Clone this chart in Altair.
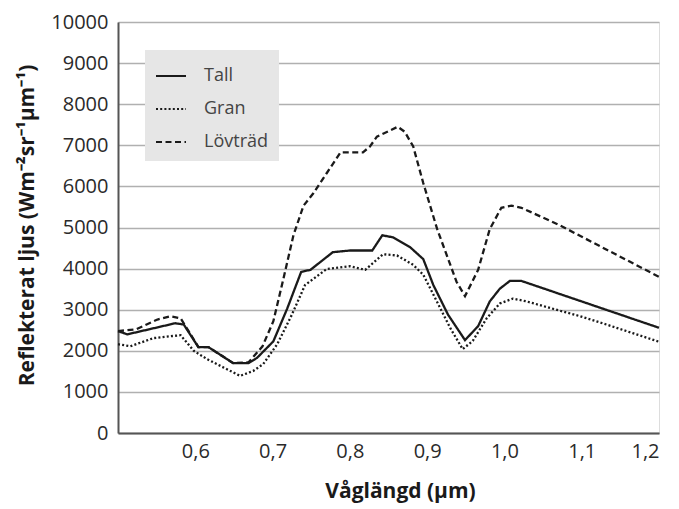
import altair as alt
import pandas as pd

series_names = ["Tall", "Gran", "Lövträd"]

tall_x = [0.500, 0.512, 0.574, 0.585, 0.604, 0.617, 0.649, 0.669, 0.680, 0.701, 0.719, 0.737, 0.749,
          0.778, 0.800, 0.829, 0.842, 0.856, 0.878, 0.895, 0.908, 0.927, 0.949, 0.966, 0.981, 0.994,
          1.007, 1.022, 1.200]
tall_y = [2480, 2400, 2670, 2640, 2090, 2090, 1700, 1700, 1830, 2230, 3030, 3920, 3970,
          4400, 4440, 4440, 4810, 4760, 4520, 4230, 3600, 2880, 2260, 2600, 3200, 3510,
          3700, 3700, 2560]

gran_x = [0.500, 0.516, 0.546, 0.581, 0.598, 0.615, 0.637, 0.658, 0.675, 0.688, 0.706, 0.725, 0.742,
          0.770, 0.800, 0.820, 0.843, 0.861, 0.882, 0.895, 0.908, 0.930, 0.946, 0.959, 0.977, 0.994,
          1.011, 1.029, 1.098, 1.132, 1.166, 1.200]
gran_y = [2160, 2110, 2310, 2380, 2000, 1800, 1590, 1390, 1510, 1680, 2160, 2880, 3600,
          3990, 4060, 3970, 4350, 4320, 4090, 3850, 3370, 2550, 2040, 2240, 2790, 3150,
          3270, 3200, 2840, 2640, 2430, 2220]

lov_x = [0.500, 0.523, 0.551, 0.568, 0.581, 0.594, 0.604, 0.617, 0.649, 0.669, 0.687, 0.701, 0.714,
         0.727, 0.740, 0.753, 0.770, 0.788, 0.817, 0.826, 0.835, 0.862, 0.871, 0.882, 0.895, 0.913,
         0.938, 0.949, 0.966, 0.981, 0.996, 1.009, 1.022, 1.072, 1.200]
lov_y = [2480, 2520, 2760, 2840, 2790, 2400, 2090, 2090, 1700, 1720, 2110, 2720, 3750,
         4810, 5530, 5840, 6320, 6830, 6830, 6970, 7210, 7450, 7330, 6970, 6080, 4960,
         3680, 3330, 3970, 4960, 5480, 5530, 5480, 5050, 3800]

x_ticks = [0.6, 0.7, 0.8, 0.9, 1.0, 1.1, 1.2]
y_ticks = [0, 1000, 2000, 3000, 4000, 5000, 6000, 7000, 8000, 9000, 10000]

rows = []
for name, xs, ys in zip(series_names, [tall_x, gran_x, lov_x], [tall_y, gran_y, lov_y]):
    for i, (a, b) in enumerate(zip(xs, ys)):
        rows.append({"serie": name, "x": a, "y": b, "i": i})
df = pd.DataFrame(rows)

FONT = "Open Sans"

chart = alt.Chart(df).mark_line(color="#1a1a1a", strokeWidth=2.3).encode(
    x=alt.X("x:Q",
            scale=alt.Scale(domain=[0.5, 1.2], nice=False, zero=False),
            axis=alt.Axis(values=x_ticks, title="Våglängd (µm)",
                          labelExpr="replace(format(datum.value, '.1f'), '.', ',')",
                          ticks=False, grid=False, labelPadding=8,
                          labelFontSize=20, labelColor="#2a2a2a", labelFont=FONT,
                          titleFont=FONT, titleFontSize=21, titleFontWeight="bold",
                          titleColor="#1a1a1a", titleX=282, titleY=64,
                          titleBaseline="alphabetic", titleAnchor="start",
                          titleAlign="center",
                          domainColor="#555555", domainWidth=2)),
    y=alt.Y("y:Q",
            scale=alt.Scale(domain=[0, 10000], nice=False),
            axis=alt.Axis(values=y_ticks, format="d", title="Reflekterat ljus (Wm⁻²sr⁻¹µm⁻¹)",
                          ticks=False, labelPadding=10,
                          labelFontSize=20, labelColor="#2a2a2a", labelFont=FONT,
                          titleFont=FONT, titleFontSize=21, titleFontWeight="bold",
                          titleColor="#1a1a1a", titleX=-85, titleY=203,
                          titleBaseline="alphabetic", titleAlign="center", titleAngle=270,
                          gridColor="#b0b0b0", gridWidth=1.5,
                          domainColor="#555555", domainWidth=2)),
    strokeDash=alt.StrokeDash("serie:N",
                              scale=alt.Scale(domain=series_names,
                                              range=[[1, 0], [2, 2.2], [6, 3.5]]),
                              legend=alt.Legend(title=None, orient="none", legendX=27, legendY=28,
                                                fillColor="#e6e6e6", padding=10,
                                                symbolType="stroke", symbolSize=900,
                                                symbolStrokeColor="#1a1a1a", symbolStrokeWidth=2,
                                                labelOffset=17, rowPadding=8,
                                                labelFont=FONT, labelFontSize=18,
                                                labelColor="#444444")),
    detail="serie:N",
    order="i:Q",
).properties(
    width=541, height=411,
    autosize=alt.AutoSizeParams(type="none"),
    padding={"left": 110, "top": 14, "right": 12, "bottom": 74},
).configure_view(stroke=None).configure(background="white")

chart.save("out.html", embed_options={"renderer": "svg", "actions": False})
